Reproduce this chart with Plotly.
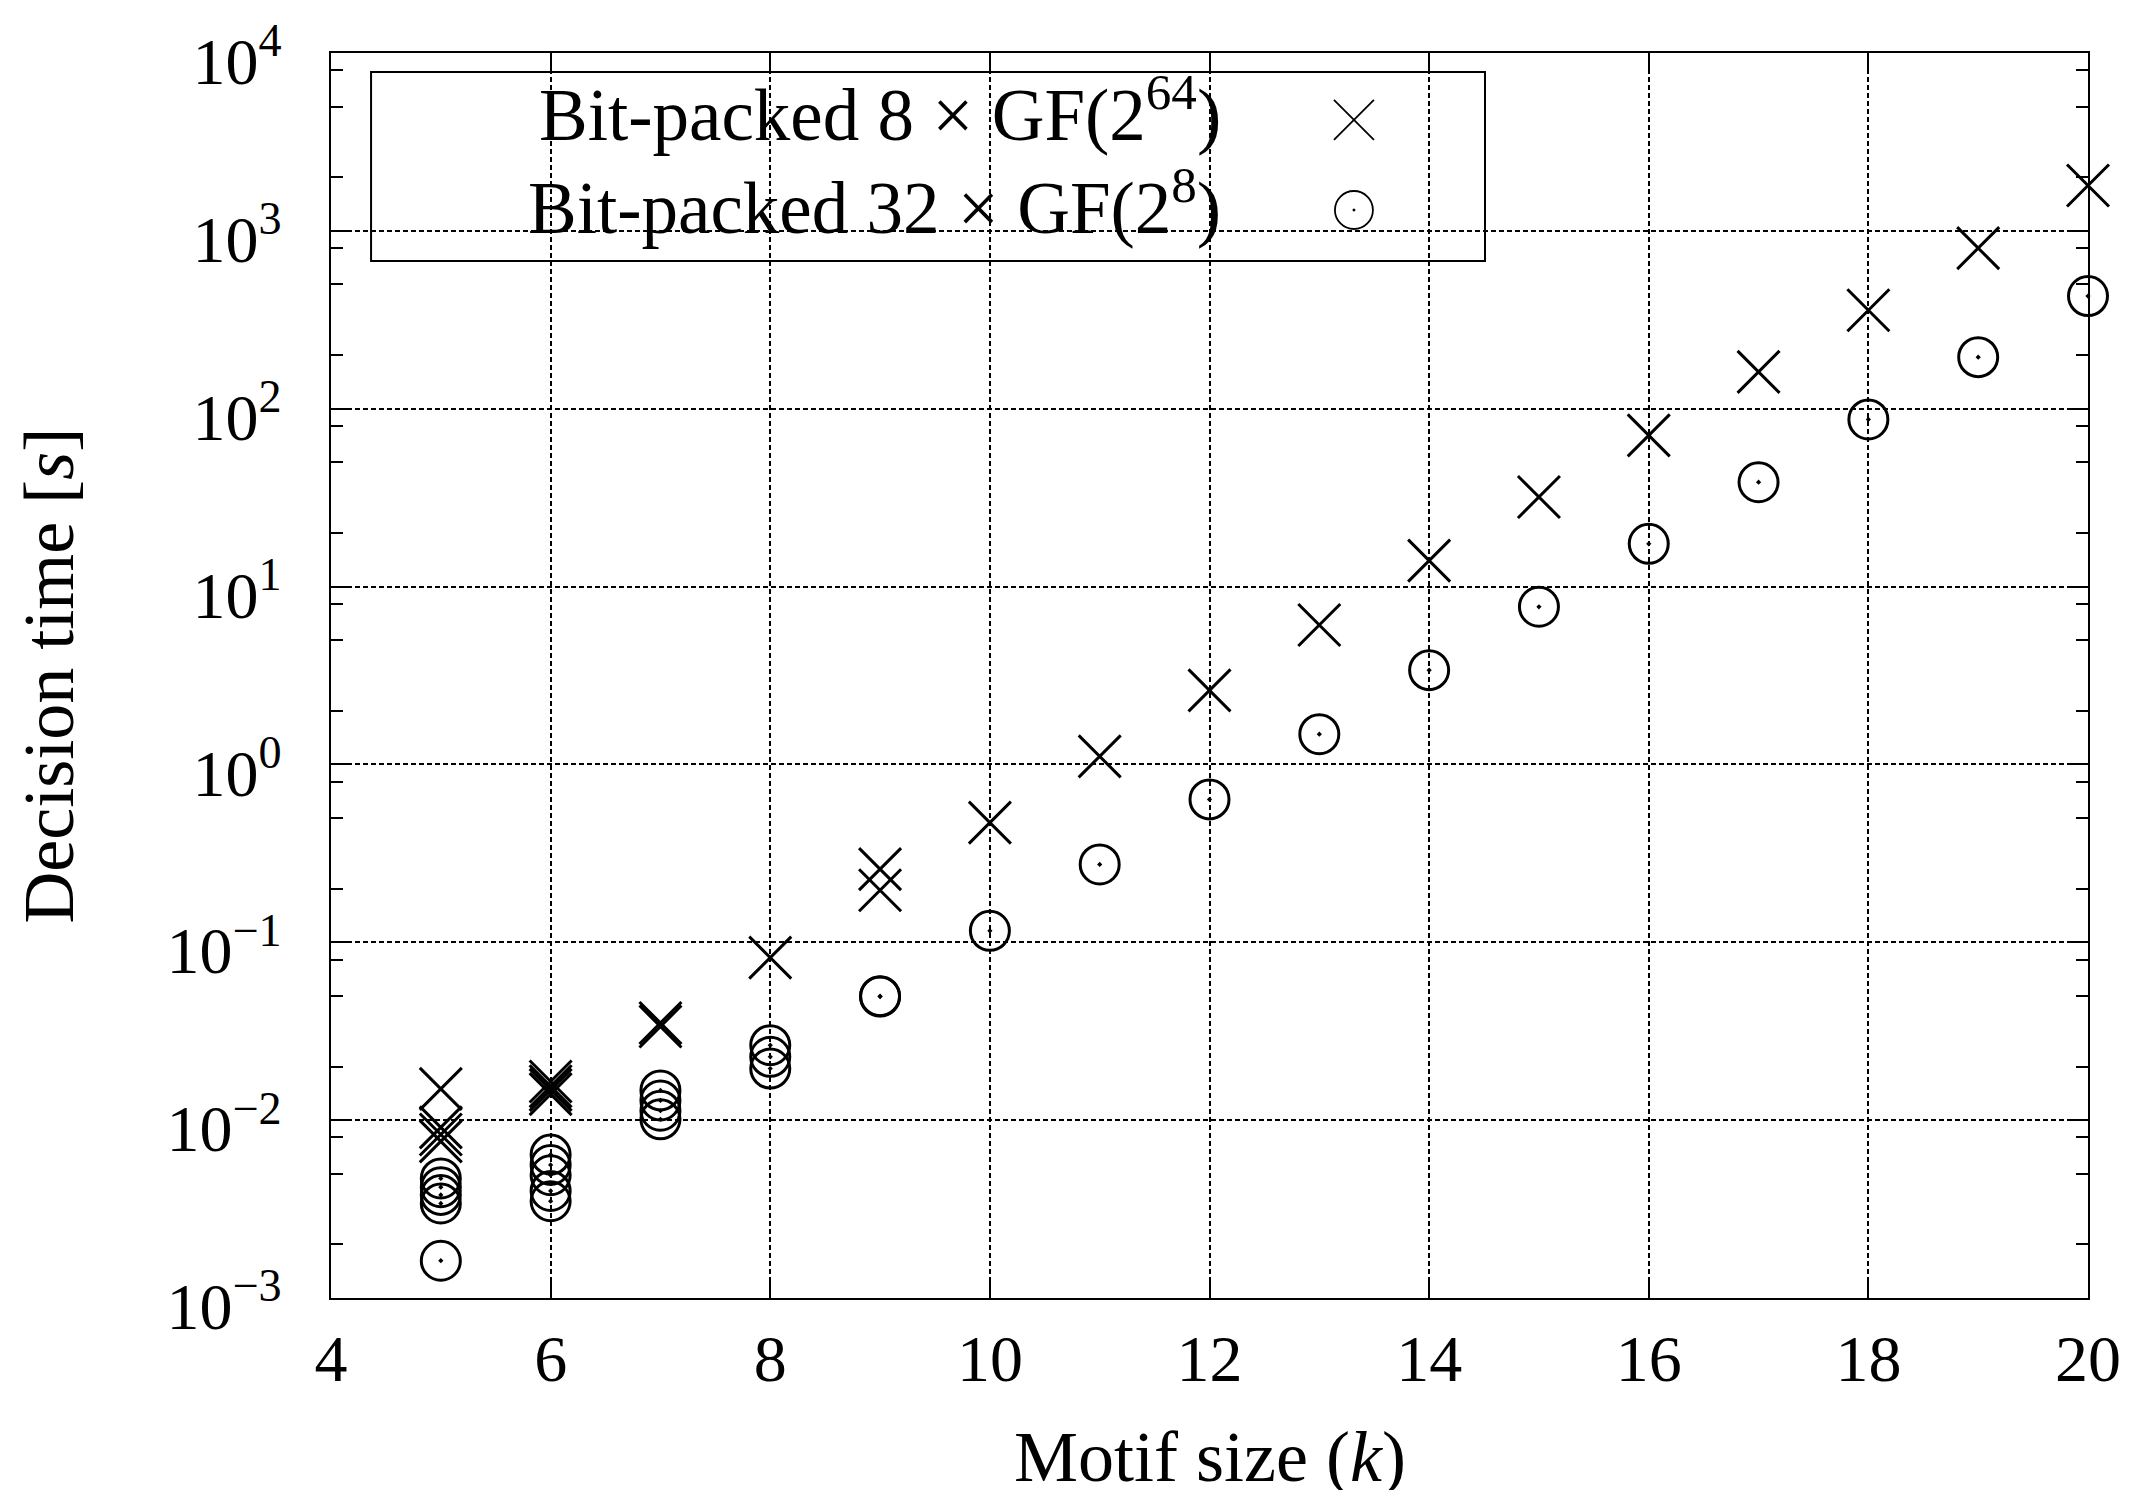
import plotly.graph_objects as go

# ---------------- data ----------------
# Bit-packed 8 x GF(2^64)  (crosses)
k_gf64 = [5, 5, 5, 5,
          6, 6, 6, 6,
          7, 7,
          8,
          9, 9,
          10, 11, 12, 13, 14, 15, 16, 17, 18, 19, 20]
t_gf64 = [0.0150, 0.0091, 0.0083, 0.0076,
          0.0165, 0.0155, 0.0148, 0.0140,
          0.0352, 0.0336,
          0.082,
          0.258, 0.196,
          0.471, 1.11, 2.61, 6.08, 14.0, 31.9, 70.8, 161, 358, 800, 1800]

# Bit-packed 32 x GF(2^8)  (circles)
k_gf8 = [5, 5, 5, 5, 5,
         6, 6, 6, 6, 6,
         7, 7, 7, 7,
         8, 8, 8,
         9, 9,
         10, 11, 12, 13, 14, 15, 16, 17, 18, 19, 20]
t_gf8 = [0.0047, 0.0042, 0.0038, 0.0034, 0.00162,
         0.0064, 0.0056, 0.0049, 0.0040, 0.0035,
         0.0147, 0.0129, 0.0113, 0.0101,
         0.0264, 0.0227, 0.0195,
         0.0498, 0.0495,
         0.116, 0.274, 0.636, 1.48, 3.39, 7.7, 17.4, 38.6, 87, 195, 430]

legend_labels = ["Bit-packed 8 × GF(2<sup>64</sup>)",
                 "Bit-packed 32 × GF(2<sup>8</sup>)"]

x_ticks = [4, 6, 8, 10, 12, 14, 16, 18, 20]
y_exponents = [-3, -2, -1, 0, 1, 2, 3, 4]
y_minor_mult = [2, 5, 8]

x_title = "Motif size (<i>k</i>)"
y_title = "Decision time [<i>s</i>]"

# ---------------- styling ----------------
FONT = "Liberation Serif"
TICK_SIZE = 66
TITLE_SIZE = 72
LEG_SIZE = 73

y_tickvals = [10.0 ** e for e in y_exponents]
y_ticktext = ["10<sup>%s</sup>" % (str(e).replace("-", "−")) for e in y_exponents]
y_minor_vals = [m * 10.0 ** e for e in y_exponents[:-1] for m in y_minor_mult]

fig = go.Figure()

fig.add_trace(go.Scatter(
    x=k_gf64, y=t_gf64, mode="markers", name=legend_labels[0],
    marker=dict(symbol="x-thin", size=42, color="black",
                line=dict(color="black", width=3)),
    showlegend=False, cliponaxis=False,
))
fig.add_trace(go.Scatter(
    x=k_gf8, y=t_gf8, mode="markers", name=legend_labels[1],
    marker=dict(symbol="circle-open-dot", size=39, color="black",
                line=dict(color="black", width=3)),
    showlegend=False, cliponaxis=False,
))

# legend symbols drawn on an overlay axis spanning the plot area (0..1)
leg_sym_x = [0.5822, 0.5822]
leg_sym_y = [0.9462, 0.8739]
fig.add_trace(go.Scatter(
    x=[leg_sym_x[0]], y=[leg_sym_y[0]], xaxis="x2", yaxis="y2", mode="markers",
    marker=dict(symbol="x-thin", size=40, color="black",
                line=dict(color="black", width=1.8)),
    showlegend=False, hoverinfo="skip",
))
fig.add_trace(go.Scatter(
    x=[leg_sym_x[1]], y=[leg_sym_y[1]], xaxis="x2", yaxis="y2", mode="markers",
    marker=dict(symbol="circle-open-dot", size=38, color="black",
                line=dict(color="black", width=1.8)),
    showlegend=False, hoverinfo="skip",
))

grid_common = dict(
    showgrid=True, gridcolor="black", gridwidth=1.7, griddash="5px,3px",
    showline=True, linecolor="black", linewidth=2.2, mirror="allticks",
    ticks="inside", tickcolor="black", tickwidth=2, ticklen=20,
    tickfont=dict(family=FONT, size=TICK_SIZE, color="black"),
    ticklabeloverflow="allow", automargin=False,
    zeroline=False,
)

# page body has an 8px margin: figure is sized/placed so the plot area lands
# at x 331..2088, y 53..1298 of the window
fig.update_layout(
    width=2122, height=1482,
    margin=dict(l=323, r=42, t=45, b=192, autoexpand=False),
    paper_bgcolor="white", plot_bgcolor="white",
    font=dict(family=FONT, color="black"),
    xaxis=dict(
        range=[4, 20], tickmode="array", tickvals=x_ticks,
        ticktext=[str(v) for v in x_ticks],
        ticklabelstandoff=2,
        **grid_common,
    ),
    yaxis=dict(
        type="log", range=[-3, 4], tickmode="array",
        tickvals=y_tickvals, ticktext=y_ticktext,
        ticklabelstandoff=34, ticklabelshift=8,
        minor=dict(tickmode="array", tickvals=y_minor_vals, ticks="inside",
                   ticklen=12, tickwidth=2, tickcolor="black", showgrid=False),
        **grid_common,
    ),
    xaxis2=dict(range=[0, 1], overlaying="x", visible=False, domain=[0, 1]),
    yaxis2=dict(range=[0, 1], overlaying="y", visible=False, domain=[0, 1]),
    shapes=[dict(type="rect", xref="paper", yref="paper",
                 x0=0.0228, x1=0.6568, y0=0.8329, y1=0.9847,
                 line=dict(color="black", width=2), fillcolor="white",
                 layer="between")],
    annotations=[
        dict(text=legend_labels[0], xref="paper", yref="paper",
             x=0.5078, y=0.9550, xanchor="right", yanchor="middle",
             showarrow=False, font=dict(family=FONT, size=LEG_SIZE, color="black")),
        dict(text=legend_labels[1], xref="paper", yref="paper",
             x=0.5078, y=0.8800, xanchor="right", yanchor="middle",
             showarrow=False, font=dict(family=FONT, size=LEG_SIZE, color="black")),
        dict(text=x_title, xref="paper", yref="paper", x=0.5, y=-0.128,
             xanchor="center", yanchor="middle", showarrow=False,
             font=dict(family=FONT, size=TITLE_SIZE, color="black")),
        dict(text=y_title, xref="paper", yref="paper", x=-0.161, y=0.5,
             xanchor="center", yanchor="middle", textangle=-90, showarrow=False,
             font=dict(family=FONT, size=TITLE_SIZE, color="black")),
    ],
)

fig.write_html("out.html")
